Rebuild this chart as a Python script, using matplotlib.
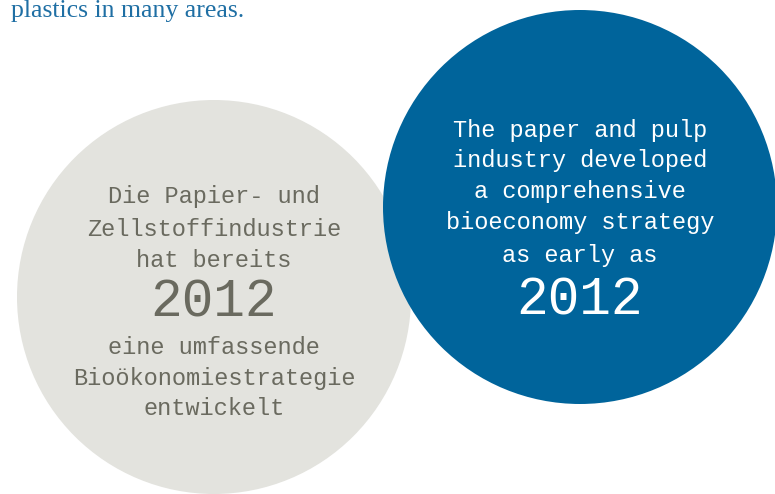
import matplotlib
matplotlib.use('Agg')
import matplotlib.pyplot as plt
from matplotlib.patches import Circle

W, H = 775, 494

# circle layout (pixel coordinates, y down)
circles = [
    ((214, 297), 197, "#e3e3de"),
    ((580, 207), 197, "#00649b"),
]

de_lines = ["Die Papier- und", "Zellstoffindustrie", "hat bereits"]
de_year = "2012"
de_lines2 = ["eine umfassende", "Bioökonomiestrategie", "entwickelt"]

en_lines = ["The paper and pulp", "industry developed", "a comprehensive",
            "bioeconomy strategy", "as early as"]
en_year = "2012"

header = "plastics in many areas."

MONO = "Liberation Mono"
GREY_TXT = "#6a6a5f"

fig = plt.figure(figsize=(W / 100, H / 100), dpi=100)
ax = fig.add_axes([0, 0, 1, 1])
ax.set_xlim(0, W)
ax.set_ylim(H, 0)
ax.set_aspect('equal')
ax.axis('off')

for (cx, cy), r, col in circles:
    ax.add_patch(Circle((cx, cy), r, facecolor=col, edgecolor='none'))

# header text, cut off at the top
ax.text(11, 17, header, fontsize=18.5, family="Liberation Serif",
        color="#1f6fa4", va='baseline', ha='left')

# german circle text
for y, s in zip([196, 229, 260], de_lines):
    ax.text(214, y, s, family=MONO, fontsize=17, color=GREY_TXT,
            ha='center', va='center')
ax.text(214, 302, de_year, family=MONO, fontsize=38, color=GREY_TXT,
        ha='center', va='center')
for y, s in zip([347, 378, 408], de_lines2):
    ax.text(214, y, s, family=MONO, fontsize=17, color=GREY_TXT,
            ha='center', va='center')

# english circle text
for y, s in zip([130, 160, 191, 222, 255], en_lines):
    ax.text(580, y, s, family=MONO, fontsize=17, color="white",
            ha='center', va='center')
ax.text(580, 300, en_year, family=MONO, fontsize=38, color="white",
        ha='center', va='center')

fig.savefig("out.png", dpi=100)
